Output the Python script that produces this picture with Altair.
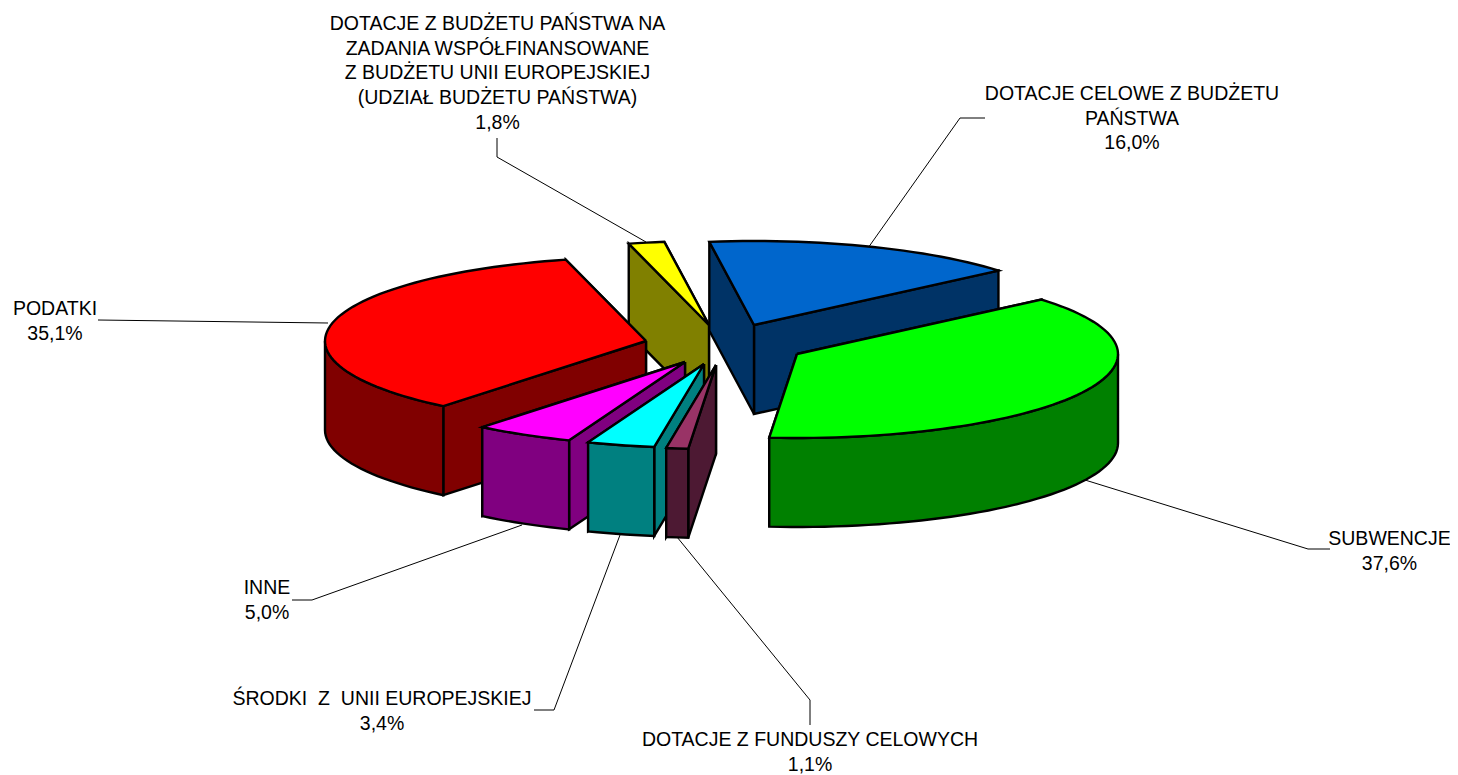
import math
import altair as alt
import pandas as pd

# --- values -----------------------------------------------------------------
names = ["DOTACJE CELOWE Z BUDŻETU PAŃSTWA", "SUBWENCJE", "DOTACJE Z FUNDUSZY CELOWYCH",
         "ŚRODKI  Z  UNII EUROPEJSKIEJ", "INNE", "PODATKI",
         "DOTACJE Z BUDŻETU PAŃSTWA NA ZADANIA WSPÓŁFINANSOWANE"]
shares = [16.0, 37.6, 1.1, 3.4, 5.0, 35.1, 1.8]
share_labels = ["16,0%", "37,6%", "1,1%", "3,4%", "5,0%", "35,1%", "1,8%"]
label_lines = [
    ["DOTACJE CELOWE Z BUDŻETU", "PAŃSTWA"],
    ["SUBWENCJE"],
    ["DOTACJE Z FUNDUSZY CELOWYCH"],
    ["ŚRODKI\u00a0 Z\u00a0 UNII EUROPEJSKIEJ"],
    ["INNE"],
    ["PODATKI"],
    ["DOTACJE Z BUDŻETU PAŃSTWA NA", "ZADANIA WSPÓŁFINANSOWANE",
     "Z BUDŻETU UNII EUROPEJSKIEJ", "(UDZIAŁ BUDŻETU PAŃSTWA)"],
]
top_colors = ["#0066CC", "#00FF00", "#993366", "#00FFFF", "#FF00FF", "#FF0000", "#FFFF00"]
side_colors = ["#003366", "#008000", "#4D1933", "#008080", "#800080", "#800000", "#808000"]

# --- layout of the exploded 3D pie (page pixels) ------------------------------
START_ANGLE = -8.0
RX, RY, DEPTH = 321, 84, 89
apex = [(754, 325), (797, 354), (716, 365), (704, 364), (685, 362), (646, 341), (709, 325)]
paint_order = [6, 0, 5, 4, 3, 2, 1]
label_pos = [(1132, 94), (1389.5, 539), (810, 740), (382, 699), (267, 588), (55, 309), (497.5, 24)]
LINE_STEP = 24.7
leaders = [
    [(985, 118), (960, 118), (868, 248)],
    [(1330, 549), (1308, 549), (1085, 480)],
    [(810, 725), (810, 700), (677, 537)],
    [(534, 710), (554, 710), (620, 535)],
    [(292, 600), (312, 600), (522, 525)],
    [(98, 320), (328, 323)],
    [(497, 138), (497, 157), (646, 242)],
]

def rim(cx, cy, a0, a1, dy=0.0):
    n = max(2, int(abs(a1 - a0) / 2) + 1)
    pts = []
    for k in range(n + 1):
        t = math.radians(a0 + (a1 - a0) * k / n)
        pts.append((cx + RX * math.sin(t), cy - RY * math.cos(t) + dy))
    return pts

spans, acc = [], START_ANGLE
for s in shares:
    spans.append((acc, acc + s * 3.6))
    acc += s * 3.6

rows, pid = [], 0
def add(poly, color):
    global pid
    poly = poly + [poly[0]]
    for i, (x, y) in enumerate(poly):
        rows.append({"pid": pid, "i": i, "x": x, "y": y, "fill": color})
    pid += 1

for idx in paint_order:
    cx, cy = apex[idx]
    a0, a1 = spans[idx]
    side, top = side_colors[idx], top_colors[idx]
    for a in (a1, a0):
        (px, py), = rim(cx, cy, a, a, 0)[:1]
        add([(cx, cy), (px, py), (px, py + DEPTH), (cx, cy + DEPTH)], side)
    w0, w1 = max(a0, 90), min(a1, 270)
    if w1 > w0:
        add(rim(cx, cy, w0, w1) + rim(cx, cy, w1, w0, DEPTH), side)
    add([(cx, cy)] + rim(cx, cy, a0, a1), top)

pie = pd.DataFrame(rows)

leader_rows = [{"lid": n, "i": i, "x": x, "y": y}
               for n, pts in enumerate(leaders) for i, (x, y) in enumerate(pts)]
leader_df = pd.DataFrame(leader_rows)

text_rows = []
for n, lines in enumerate(label_lines):
    x, y = label_pos[n]
    for j, t in enumerate(lines + [share_labels[n]]):
        text_rows.append({"x": x, "y": y + j * LINE_STEP, "t": t})
text_df = pd.DataFrame(text_rows)

W, H = 1442, 767
xs = alt.Scale(domain=[8, 8 + W], range=[0, W], nice=False, zero=False)
ys = alt.Scale(domain=[8, 8 + H], range=[0, H], nice=False, zero=False)
X = alt.X("x:Q", scale=xs, axis=None)
Y = alt.Y("y:Q", scale=ys, axis=None)

pie_layer = alt.Chart(pie).mark_line(stroke="black", strokeWidth=2.4, strokeJoin="miter", clip=False).encode(
    x=X, y=Y, detail="pid:N", order="i:Q", fill=alt.Fill("fill:N", scale=None))
leader_layer = alt.Chart(leader_df).mark_line(stroke="black", strokeWidth=1).encode(
    x=X, y=Y, detail="lid:N", order="i:Q")
text_layer = alt.Chart(text_df).mark_text(font="Liberation Sans", fontSize=19.5, color="black",
                                          align="center", baseline="middle").encode(x=X, y=Y, text="t:N")

chart = alt.layer(leader_layer, pie_layer, text_layer).properties(
    width=W, height=H, padding=0, background="white",
    autosize=alt.AutoSizeParams(type="none")
).configure_view(stroke=None).resolve_scale(x="shared", y="shared")
chart.save("out.html", embed_options={"renderer": "svg", "actions": False})
